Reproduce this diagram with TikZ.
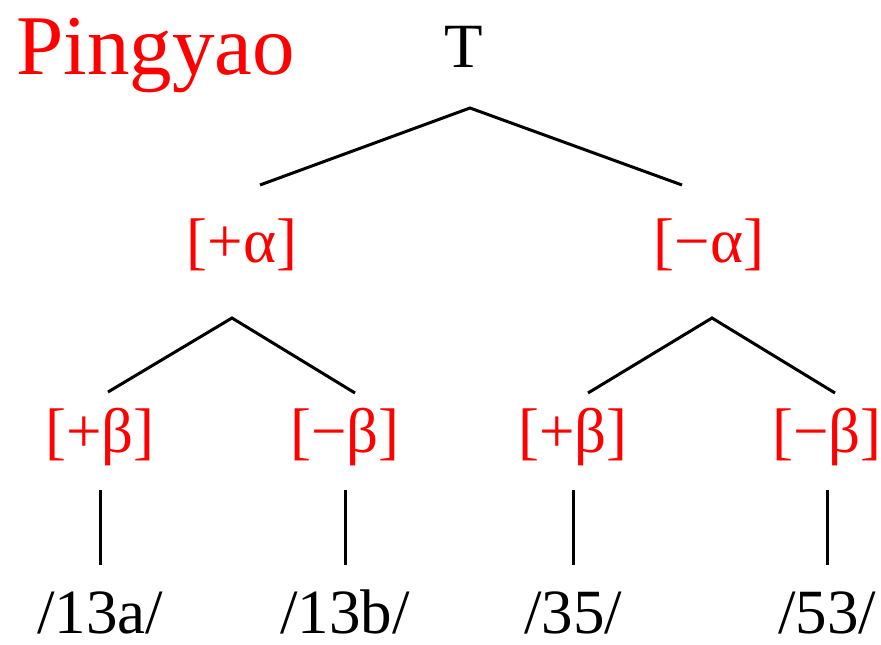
\documentclass[tikz,border=0pt]{standalone}
\usepackage{fontspec}
\setmainfont{Liberation Serif}
\begin{document}
\begin{tikzpicture}[x=1pt,y=-1pt,
  lbl/.style={anchor=base,inner sep=0pt,font=\fontsize{63}{72}\selectfont},
  feat/.style={lbl,text=red},
  edge/.style={draw=black,line width=3pt}]
\useasboundingbox (0,0) rectangle (881,645);
\node[anchor=base west,inner sep=0pt,text=red,font=\fontsize{85}{96}\selectfont] (title) at (16,74) {Pingyao};
\node[lbl] (T) at (464,67) {T};
\node[feat] (pa) at (242,262) {[+α]};
\node[feat] (ma) at (709,262) {[−α]};
\node[feat] (pb1) at (100,452) {[+β]};
\node[feat] (mb1) at (345,452) {[−β]};
\node[feat] (pb2) at (573,452) {[+β]};
\node[feat] (mb2) at (827,452) {[−β]};
\node[lbl] (a13) at (100,633) {/13a/};
\node[lbl] (b13) at (345,633) {/13b/};
\node[lbl] (t35) at (573,633) {/35/};
\node[lbl] (t53) at (827,633) {/53/};
\coordinate (Tx) at (470,108);
\coordinate (Tl) at (260,185);
\coordinate (Tr) at (682,185);
\coordinate (Lx) at (232,318);
\coordinate (Ll) at (108,392);
\coordinate (Lr) at (355,393);
\coordinate (Rx) at (712,318);
\coordinate (Rl) at (588,393);
\coordinate (Rr) at (835,393);
\draw[edge] (Tl) -- (Tx) -- (Tr);
\draw[edge] (Ll) -- (Lx) -- (Lr);
\draw[edge] (Rl) -- (Rx) -- (Rr);
\draw[edge] (100,490) coordinate (v1a) -- (100,565) coordinate (v1b);
\draw[edge] (345,490) coordinate (v2a) -- (345,565) coordinate (v2b);
\draw[edge] (573,490) coordinate (v3a) -- (573,565) coordinate (v3b);
\draw[edge] (827,490) coordinate (v4a) -- (827,565) coordinate (v4b);
\end{tikzpicture}
\end{document}
